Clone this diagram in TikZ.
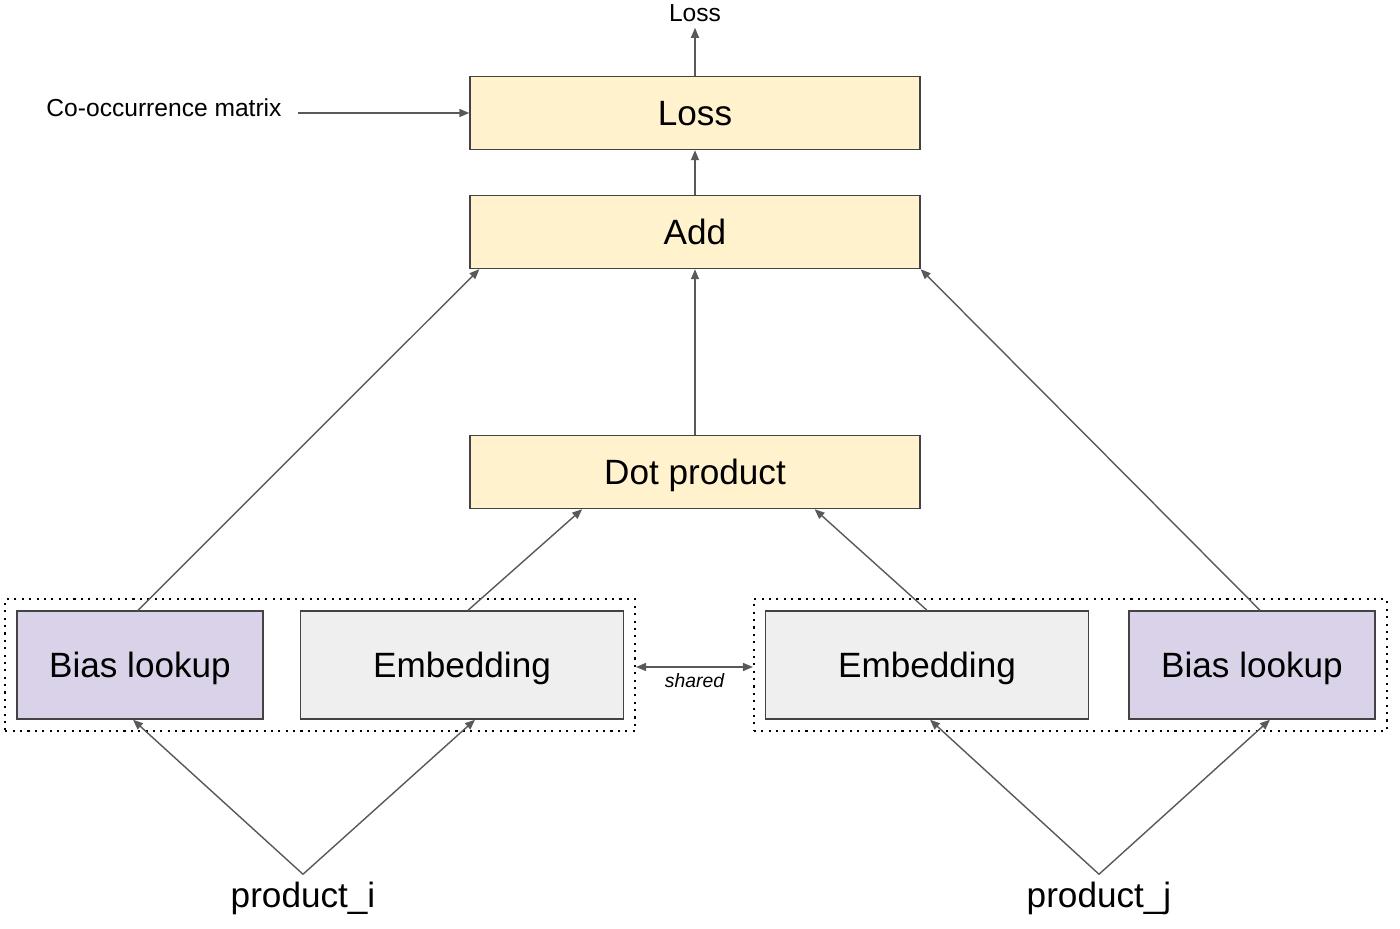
\documentclass[tikz,border=0pt]{standalone}
\usepackage{fontspec}
\setmainfont{Liberation Sans}
\usetikzlibrary{arrows.meta,calc,fit}

\definecolor{boxyellow}{HTML}{FFF2CC}
\definecolor{boxpurple}{HTML}{D9D2E9}
\definecolor{boxgray}{HTML}{EFEFEF}
\definecolor{edgegray}{HTML}{434343}
\definecolor{arrowgray}{HTML}{595959}

\begin{document}
\begin{tikzpicture}[x=0.02cm, y=-0.02cm,
        layer/.style={draw=edgegray, line width=0.8pt, minimum height=1.46cm, minimum width=9cm,
            fill=boxyellow, font=\fontsize{20}{24}\selectfont, text depth=0pt},
        lookup/.style={draw=edgegray, line width=0.8pt, minimum height=2.16cm,
            font=\fontsize{20}{24}\selectfont, text depth=0pt},
        group/.style={draw, dash pattern=on 1.2pt off 3pt, line width=1pt, inner sep=0.22cm},
        flow/.style={draw=arrowgray, line width=0.8pt, -{Triangle[length=2mm, width=1.6mm]}}]
    \useasboundingbox (0, 0) rectangle (1400, 929);

    \node[layer] (loss) at (695, 113) {Loss};
    \node[layer] (add)  at (695, 232) {Add};
    \node[layer] (dot)  at (695, 472) {Dot product};

    \node[lookup, fill=boxpurple, minimum width=4.92cm] (biasi) at (140, 665) {Bias lookup};
    \node[lookup, fill=boxgray, minimum width=6.46cm]   (embi)  at (462, 665) {Embedding};
    \node[lookup, fill=boxgray, minimum width=6.46cm]   (embj)  at (927, 665) {Embedding};
    \node[lookup, fill=boxpurple, minimum width=4.92cm] (biasj) at (1252, 665) {Bias lookup};

    \node[group, fit=(biasi)(embi)] (groupi) {};
    \node[group, fit=(embj)(biasj)] (groupj) {};

    \node[font=\fontsize{14}{17}\selectfont] (lossout) at (695, 13) {Loss};
    \node[font=\fontsize{14}{17}\selectfont] (cooc) at (164, 108) {Co-occurrence matrix};
    \node[font=\fontsize{20}{24}\selectfont, inner sep=4pt] (prodi) at (303, 898) {product\_i};
    \node[font=\fontsize{20}{24}\selectfont, inner sep=4pt] (prodj) at (1099, 898) {product\_j};

    % top of the stack
    \draw[flow] (loss) -- (lossout);
    \draw[flow, shorten <=0.2cm] (cooc.east |- loss.west) -- (loss.west);
    \draw[flow] (add) -- (loss);
    \draw[flow] (dot) -- (add);

    % lookups into the layers
    \draw[flow] ([xshift=-0.04cm]biasi.north) -- ([xshift=0.2cm]add.south west);
    \draw[flow] ([xshift=0.16cm]biasj.north) -- (add.south east);
    \draw[flow] ([xshift=0.12cm]embi.north) -- ($(dot.south west)!0.25!(dot.south east)$);
    \draw[flow] (embj.north) -- ($(dot.south west)!0.765!(dot.south east)$);

    % inputs
    \draw[flow] (prodi.north) -- ([xshift=-0.14cm]biasi.south);
    \draw[flow] (prodi.north) -- ([xshift=0.26cm]embi.south);
    \draw[flow] (prodj.north) -- ([xshift=0.06cm]embj.south);
    \draw[flow] (prodj.north) -- ([xshift=0.36cm]biasj.south);

    \draw[draw=arrowgray, line width=0.8pt, {Triangle[length=2mm, width=1.6mm]}-{Triangle[length=2mm, width=1.6mm]}]
        ([yshift=-0.04cm]groupi.east) -- node[below, font=\fontsize{11}{13}\selectfont\itshape] (shared) {shared} ([yshift=-0.04cm]groupj.west);
\end{tikzpicture}
\end{document}
